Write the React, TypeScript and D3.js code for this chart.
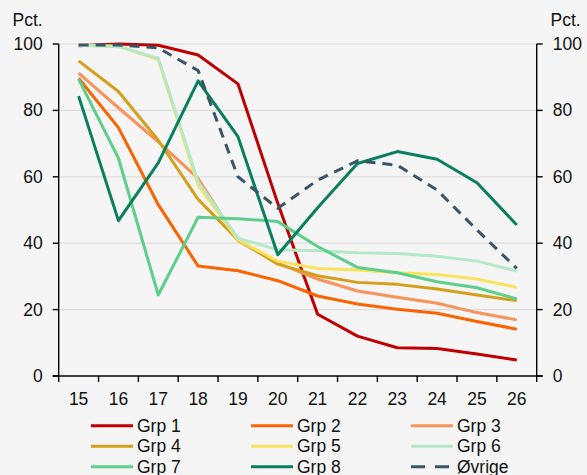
import * as d3 from "d3";

const years = ["15", "16", "17", "18", "19", "20", "21", "22", "23", "24", "25", "26"];

const grp1 = [99.5, 100, 99.6, 96.7, 88, 52, 18.6, 12, 8.5, 8.3, 6.6, 4.8];
const grp2 = [89.7, 74.8, 51.6, 33.1, 31.7, 28.7, 24.1, 21.7, 20.1, 18.9, 16.4, 14.1];
const grp3 = [91.2, 80.8, 70.5, 59.5, 40.8, 34, 29.2, 25.6, 23.7, 21.9, 19.1, 16.9];
const grp4 = [94.9, 85.7, 71, 53.2, 41, 33.7, 30.2, 28.2, 27.6, 26.2, 24.4, 22.7];
const grp5 = [99.6, 99.4, 95.3, 57.5, 41, 34.6, 32.4, 31.9, 31.1, 30.6, 29.2, 26.7];
const grp6 = [99.6, 99.2, 95.7, 58.5, 41.5, 38, 37.7, 37.1, 36.9, 36.1, 34.6, 31.6];
const grp7 = [89.4, 65.6, 24.4, 47.8, 47.4, 46.5, 39, 32.7, 31.1, 28.4, 26.6, 23.2];
const grp8 = [84.3, 46.8, 64.2, 88.9, 72.1, 36.5, 50.7, 64, 67.6, 65.3, 58.2, 45.5];
const ovrige = [99.7, 99.7, 98.8, 92, 60, 50.5, 59, 64.8, 63.5, 56, 44, 32.4];

const yTicks = [0, 20, 40, 60, 80, 100];

const series = [
  { name: "Grp 1", values: grp1, color: "#c00000", dashed: false },
  { name: "Grp 2", values: grp2, color: "#fa6400", dashed: false },
  { name: "Grp 3", values: grp3, color: "#f8935a", dashed: false },
  { name: "Grp 4", values: grp4, color: "#d4a01c", dashed: false },
  { name: "Grp 5", values: grp5, color: "#fae35a", dashed: false },
  { name: "Grp 6", values: grp6, color: "#b4e8c8", dashed: false },
  { name: "Grp 7", values: grp7, color: "#5dcf8b", dashed: false },
  { name: "Grp 8", values: grp8, color: "#0a7f5f", dashed: false },
  { name: "Øvrige", values: ovrige, color: "#3b5567", dashed: true },
];

const W = 587;
const H = 475;
const left = 58.7;
const right = 536.7;
const top = 44;
const bottom = 376;
const font = "Arial, 'Liberation Sans', sans-serif";
const fs = 17.5;

export default function App() {
  const x = d3.scaleBand<string>().domain(years).range([left, right]);
  const y = d3.scaleLinear().domain([0, 100]).range([bottom, top]);
  const cx = (d: string) => (x(d) ?? 0) + x.bandwidth() / 2;

  const line = d3
    .line<number>()
    .x((_, i) => cx(years[i]))
    .y((v) => y(v));

  const tickXs = [...years.map((d) => x(d) ?? 0), right];

  return (
    <div style={{ position: "absolute", left: 0, top: 0 }}>
      <svg width={W} height={H} style={{ display: "block", fontFamily: font }}>
        <rect width={W} height={H} fill="#f5f5f5" />

        {/* gridlines */}
        {yTicks.slice(1).map((t) => (
          <line key={t} x1={left} x2={right} y1={y(t)} y2={y(t)} stroke="#dcdcdc" strokeWidth={1.2} />
        ))}

        {/* series */}
        {series.map((s) => (
          <path
            key={s.name}
            d={line(s.values) ?? ""}
            fill="none"
            stroke={s.color}
            strokeWidth={3}
            strokeLinejoin="round"
            strokeDasharray={s.dashed ? "10,7" : undefined}
          />
        ))}

        {/* axes */}
        <g stroke="#000" strokeWidth={1.4}>
          <line x1={left} x2={left} y1={top} y2={bottom} />
          <line x1={right} x2={right} y1={top} y2={bottom} />
          <line x1={left - 6} x2={right + 6} y1={bottom} y2={bottom} />
          {yTicks.map((t) => (
            <g key={t}>
              <line x1={left - 6} x2={left} y1={y(t)} y2={y(t)} />
              <line x1={right} x2={right + 6} y1={y(t)} y2={y(t)} />
            </g>
          ))}
          {tickXs.map((tx, i) => (
            <line key={i} x1={tx} x2={tx} y1={bottom} y2={bottom + 6} />
          ))}
        </g>

        <g fontSize={fs} fill="#111">
          {yTicks.map((t) => (
            <g key={t}>
              <text x={left - 16} y={y(t)} textAnchor="end" dominantBaseline="central">
                {t}
              </text>
              <text x={right + 16} y={y(t)} textAnchor="start" dominantBaseline="central">
                {t}
              </text>
            </g>
          ))}
          {years.map((d) => (
            <text key={d} x={cx(d)} y={398.5} textAnchor="middle" dominantBaseline="central">
              {d}
            </text>
          ))}
          <text x={12.5} y={26}>Pct.</text>
          <text x={550.5} y={26}>Pct.</text>
        </g>

        {/* legend */}
        <g fontSize={fs} fill="#111">
          {series.map((s, i) => {
            const col = i % 3;
            const row = Math.floor(i / 3);
            const lx = 91 + col * 160;
            const ly = 425.7 + row * 20.5;
            return (
              <g key={s.name}>
                <line
                  x1={lx}
                  x2={lx + 42}
                  y1={ly}
                  y2={ly}
                  stroke={s.color}
                  strokeWidth={3}
                  strokeDasharray={s.dashed ? "14,10" : undefined}
                />
                <text x={lx + 46} y={ly} dominantBaseline="central">
                  {s.name}
                </text>
              </g>
            );
          })}
        </g>
      </svg>
    </div>
  );
}
